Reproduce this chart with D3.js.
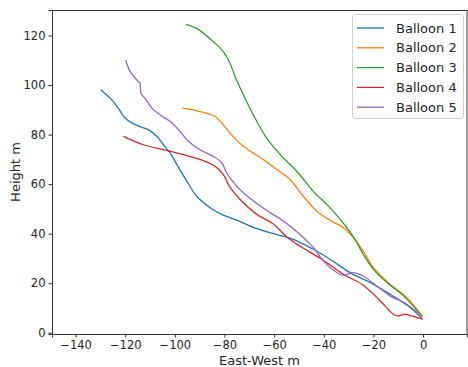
<!DOCTYPE html>
<html>
<head>
<meta charset="utf-8">
<script src="https://cdn.jsdelivr.net/npm/d3@7.9.0/dist/d3.min.js"></script>
<style>
  body { margin: 0; background: #fff; }
  svg text { font-family: "DejaVu Sans", sans-serif; fill: #262626; }
</style>
</head>
<body>
<svg id="chart" width="468" height="367"></svg>
<script>
// balloon tracks: [east-west m, height m]
const balloon1 = [[-129.9,98.1],[-125.4,94.0],[-122.8,90.7],[-120.1,86.7],[-116.0,84.0],[-110.7,82.0],[-107.3,79.3],[-104.6,75.9],[-101.9,72.6],[-99.2,67.9],[-95.2,61.2],[-91.2,55.1],[-85.8,50.5],[-80.5,47.5],[-75.1,45.5],[-67.0,42.0],[-59.0,39.7],[-52.3,37.7],[-44.2,33.7],[-37.5,29.7],[-29.4,24.3],[-21.4,20.3],[-13.3,15.6],[-5.2,10.2],[-0.5,5.8]];
const balloon2 = [[-96.8,90.7],[-89.8,89.3],[-83.8,87.3],[-81.1,84.7],[-77.8,80.6],[-72.4,75.3],[-64.3,69.9],[-58.9,65.9],[-53.6,61.9],[-48.2,55.0],[-42.8,49.1],[-37.5,45.4],[-32.1,42.4],[-28.1,38.4],[-24.1,33.0],[-20.0,26.3],[-13.3,19.6],[-6.6,14.2],[-0.1,6.3]];
const balloon3 = [[-95.5,124.5],[-91.2,122.9],[-83.8,116.9],[-80.5,113.5],[-77.8,108.8],[-75.7,103.4],[-72.4,96.1],[-68.4,88.0],[-63.0,78.6],[-56.3,70.6],[-50.9,65.2],[-44.2,57.1],[-37.5,50.5],[-30.7,42.4],[-27.4,37.7],[-24.1,31.7],[-20.0,25.6],[-14.6,20.3],[-7.9,14.9],[-0.5,6.8]];
const balloon4 = [[-120.7,79.3],[-112.7,75.9],[-103.3,73.6],[-95.2,71.5],[-87.8,69.2],[-83.8,67.2],[-80.5,63.9],[-77.8,58.8],[-73.7,53.8],[-67.0,47.8],[-60.3,43.9],[-54.9,38.7],[-48.2,34.1],[-40.2,29.3],[-32.1,23.6],[-24.1,19.2],[-17.3,12.9],[-12.0,7.5],[-10.0,6.8],[-7.3,7.5],[-4.6,6.8],[-0.1,5.5]];
const balloon5 = [[-119.8,110.1],[-118.0,105.4],[-114.7,101.4],[-114.0,100.8],[-113.7,96.7],[-112.0,94.7],[-109.3,90.7],[-106.0,88.0],[-101.9,85.3],[-97.9,81.3],[-94.6,77.3],[-89.8,73.9],[-84.5,71.2],[-81.1,68.6],[-79.1,64.5],[-75.1,59.2],[-72.4,56.5],[-67.0,52.2],[-61.6,48.5],[-56.3,45.1],[-49.6,39.7],[-44.2,34.4],[-40.2,29.0],[-36.3,25.4],[-32.1,23.2],[-28.1,24.3],[-24.1,22.9],[-18.7,18.9],[-13.3,14.9],[-7.3,12.0],[-3.2,8.9],[-0.5,5.8]];

const names = ["Balloon 1", "Balloon 2", "Balloon 3", "Balloon 4", "Balloon 5"];
const tracks = [balloon1, balloon2, balloon3, balloon4, balloon5];
const colors = ["#1f77b4", "#ff7f0e", "#2ca02c", "#d62728", "#9467bd"];
const xTicks = [-140, -120, -100, -80, -60, -40, -20, 0];
const yTicks = [0, 20, 40, 60, 80, 100, 120];

const svg = d3.select("#chart");
const margin = { top: 10, right: 1, bottom: 33, left: 52 };
const width = 468 - margin.left - margin.right;
const height = 367 - margin.top - margin.bottom;

const g = svg.append("g")
  .attr("transform", `translate(${margin.left},${margin.top})`);

const x = d3.scaleLinear().domain([-149.5, 17.7]).range([0, width]);
const y = d3.scaleLinear().domain([-0.5, 130.3]).range([height, 0]);

const fmt = d => d < 0 ? "\u2212" + Math.abs(d) : String(d);

const xAxis = g.append("g")
  .attr("transform", `translate(0,${height})`)
  .call(d3.axisBottom(x).tickValues(xTicks).tickFormat(fmt).tickSize(3.5).tickPadding(3));
const yAxis = g.append("g")
  .call(d3.axisLeft(y).tickValues(yTicks).tickFormat(fmt).tickSize(3.5).tickPadding(3));

[xAxis, yAxis].forEach(a => {
  a.selectAll("text").attr("font-size", "11.5px").attr("font-family", "DejaVu Sans");
  a.selectAll("line").attr("stroke", "#333");
  a.select(".domain").attr("stroke", "#333");
});

// top and right spines
g.append("line").attr("x1", 0).attr("x2", width).attr("y1", 0.5).attr("y2", 0.5)
  .attr("stroke", "#333").attr("stroke-width", 1);
g.append("line").attr("x1", width).attr("x2", width).attr("y1", 0).attr("y2", height)
  .attr("stroke", "#333").attr("stroke-width", 1);

const line = d3.line()
  .x(d => x(d[0]))
  .y(d => y(d[1]))
  .curve(d3.curveCatmullRom);

tracks.forEach((t, i) => {
  g.append("path")
    .datum(t)
    .attr("fill", "none")
    .attr("stroke", colors[i])
    .attr("stroke-width", 1.3)
    .attr("d", line);
});

// axis labels
svg.append("text")
  .attr("x", margin.left + width / 2)
  .attr("y", 364.5)
  .attr("text-anchor", "middle")
  .attr("font-size", "13px")
  .text("East-West m");

svg.append("text")
  .attr("transform", `translate(20,${margin.top + height / 2}) rotate(-90)`)
  .attr("text-anchor", "middle")
  .attr("font-size", "13px")
  .text("Height m");

// legend
const legend = svg.append("g").attr("transform", "translate(352,14)");
legend.append("rect")
  .attr("x", 0.5).attr("y", 0.5)
  .attr("width", 111).attr("height", 104)
  .attr("rx", 3)
  .attr("fill", "#fff").attr("fill-opacity", 0.8)
  .attr("stroke", "#d0d0d0");

names.forEach((n, i) => {
  const yy = 14 + i * 19.8;
  legend.append("line")
    .attr("x1", 5).attr("x2", 32)
    .attr("y1", yy).attr("y2", yy)
    .attr("stroke", colors[i]).attr("stroke-width", 1.3);
  legend.append("text")
    .attr("x", 44).attr("y", yy + 4.6)
    .attr("font-size", "13px")
    .text(n);
});
</script>
</body>
</html>
